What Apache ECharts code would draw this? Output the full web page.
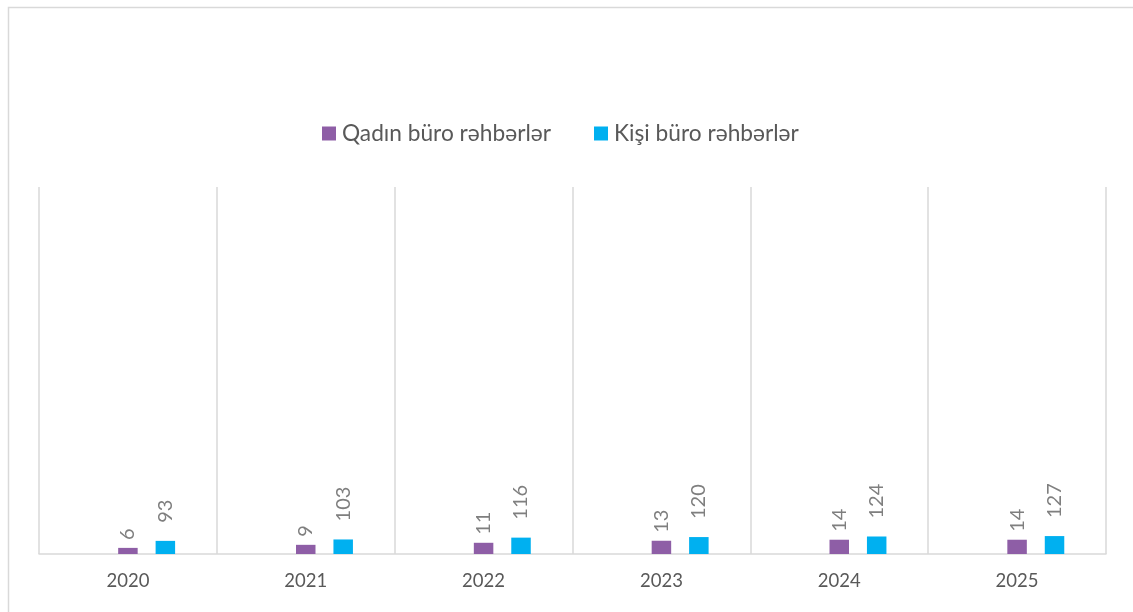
<!DOCTYPE html>
<html>
<head>
<meta charset="utf-8">
<script src="https://cdn.jsdelivr.net/npm/echarts@6/dist/echarts.min.js"></script>
<style>html,body{margin:0;padding:0;background:#fff;}#chart{width:1133px;height:612px;}</style>
</head>
<body>
<div id="chart"></div>
<script>
const years = ['2020', '2021', '2022', '2023', '2024', '2025'];
const womenHeads = [6, 9, 11, 13, 14, 14];
const menHeads = [93, 103, 116, 120, 124, 127];
const spacer = ['-', '-', '-', '-', '-', '-'];
const seriesNames = ['Qadın büro rəhbərlər', 'Kişi büro rəhbərlər'];

const FONT = 'Lato, Carlito, Calibri, "Open Sans", sans-serif';
const chart = echarts.init(document.getElementById('chart'), null, {renderer: 'canvas'});
const labelCommon = {
  show: true, position: 'top', rotate: 90, align: 'left', verticalAlign: 'middle',
  color: '#7f7f7f', fontSize: 20, fontFamily: FONT
};
chart.setOption({
  animation: false,
  backgroundColor: '#ffffff',
  graphic: [{
    type: 'rect', left: 6, top: 5, shape: {width: 1300, height: 800},
    style: {fill: 'none', stroke: '#d9d9d9', lineWidth: 1.5}, silent: true, z: -10
  }],
  legend: {
    data: seriesNames,
    top: 117, left: 317,
    itemWidth: 14, itemHeight: 14, itemGap: 43, icon: 'rect',
    textStyle: {color: '#595959', fontSize: 22.7, fontFamily: FONT, padding: [0, 0, 0, 1]}
  },
  grid: {left: 39, right: 27, top: 187, bottom: 58, containLabel: false},
  xAxis: {
    type: 'category', data: years,
    axisLine: {show: true, lineStyle: {color: '#d9d9d9', width: 1.5}},
    axisTick: {show: false},
    axisLabel: {color: '#595959', fontSize: 18.5, fontFamily: FONT, margin: 18},
    splitLine: {show: true, showMinLine: true, showMaxLine: true, lineStyle: {color: '#d9d9d9', width: 1.5}}
  },
  yAxis: [
    {type: 'value', min: 0, max: 360, show: false, splitLine: {show: false}},
    {type: 'value', min: 0, max: 2600, show: false, splitLine: {show: false}}
  ],
  series: [
    {type: 'bar', name: 'spacer', data: spacer, yAxisIndex: 0, barWidth: 19.5, barGap: '92%', silent: true},
    {type: 'bar', name: seriesNames[0], data: womenHeads, yAxisIndex: 0, barWidth: 19.5, barGap: '92%',
     itemStyle: {color: '#8e5ea6'}, label: Object.assign({distance: 8}, labelCommon)},
    {type: 'bar', name: seriesNames[1], data: menHeads, yAxisIndex: 1, barWidth: 19.5, barGap: '92%',
     itemStyle: {color: '#00b0f0'}, label: Object.assign({distance: 18}, labelCommon)}
  ]
});
</script>
</body>
</html>
